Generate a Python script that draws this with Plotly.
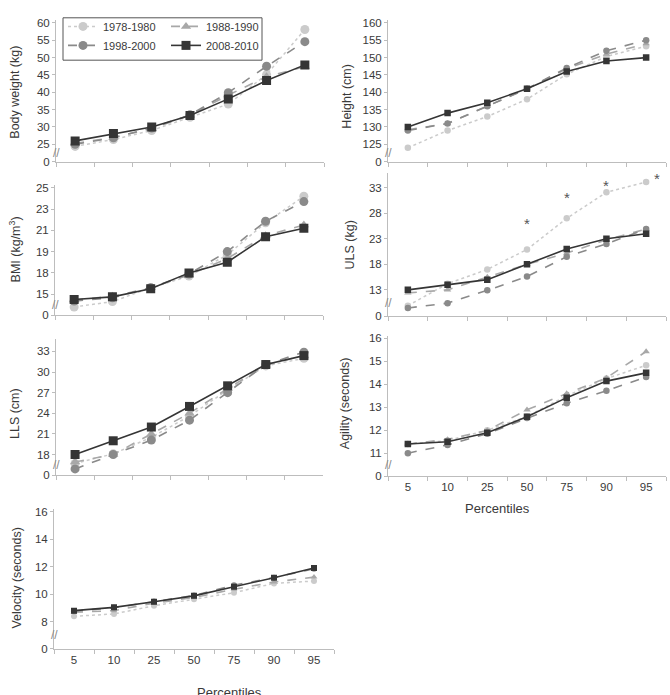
import plotly.graph_objects as go

# ---------------- data ----------------
percentiles = ["5", "10", "25", "50", "75", "90", "95"]
periods = ["1978-1980", "1988-1990", "1998-2000", "2008-2010"]

bw_1978 = [24.4, 26.4, 29.0, 32.8, 36.6, 45.1, 58.1]
bw_1988 = [25.3, 27.0, 29.5, 33.4, 39.2, 44.5, 47.4]
bw_1998 = [25.0, 26.9, 29.7, 33.5, 39.9, 47.5, 54.6]
bw_2008 = [26.0, 28.1, 30.0, 33.3, 38.1, 43.4, 47.9]

ht_1978 = [124.0, 129.0, 133.0, 138.0, 145.2, 150.3, 153.3]
ht_1988 = [129.2, 131.0, 136.0, 141.0, 146.8, 151.0, 154.0]
ht_1998 = [129.0, 131.0, 136.0, 141.0, 147.0, 152.0, 155.0]
ht_2008 = [130.0, 134.0, 137.0, 141.0, 146.0, 149.0, 150.0]

bmi_1978 = [13.8, 14.3, 15.6, 16.7, 18.7, 21.7, 24.2]
bmi_1988 = [14.45, 14.8, 15.6, 16.8, 18.35, 20.5, 21.5]
bmi_1998 = [14.35, 14.66, 15.6, 16.9, 19.0, 21.85, 23.7]
bmi_2008 = [14.5, 14.75, 15.5, 17.0, 18.0, 20.4, 21.2]

uls_1978 = [9.9, 14.2, 17.0, 20.9, 27.0, 32.1, 34.1]
uls_1988 = [12.4, 13.0, 15.5, 18.0, 20.2, 22.8, 24.9]
uls_1998 = [9.45, 10.4, 12.9, 15.6, 19.5, 22.0, 24.9]
uls_2008 = [13.0, 14.0, 15.0, 18.0, 21.0, 23.0, 24.0]
uls_star_cats = ["50", "75", "90", "95"]
uls_star_vals = [26.6, 31.6, 34.0, 35.3]

lls_1978 = [16.7, 18.1, 20.5, 23.6, 27.4, 30.9, 32.0]
lls_1988 = [16.9, 18.0, 21.0, 24.0, 27.6, 31.0, 32.4]
lls_1998 = [15.9, 18.0, 20.1, 23.0, 27.0, 31.1, 32.9]
lls_2008 = [18.0, 20.0, 22.0, 25.0, 28.0, 31.1, 32.4]

ag_1978 = [11.4, 11.55, 12.0, 12.6, 13.5, 14.25, 14.83]
ag_1988 = [11.4, 11.6, 11.99, 12.89, 13.6, 14.28, 15.43]
ag_1998 = [11.0, 11.36, 11.85, 12.53, 13.18, 13.72, 14.32]
ag_2008 = [11.4, 11.5, 11.89, 12.59, 13.42, 14.14, 14.5]

vel_1978 = [8.38, 8.55, 9.15, 9.63, 10.1, 10.78, 10.95]
vel_1988 = [8.67, 8.79, 9.34, 9.75, 10.35, 10.88, 11.24]
vel_1998 = [8.75, 9.0, 9.45, 9.9, 10.65, 11.2, 11.85]
vel_2008 = [8.79, 9.03, 9.44, 9.87, 10.54, 11.19, 11.91]

# tick values (lowest value is the broken-axis "0")
bw_tickvals = [20, 25, 30, 35, 40, 45, 50, 55, 60]
bw_ticktext = ["0", "25", "30", "35", "40", "45", "50", "55", "60"]
ht_tickvals = [120, 125, 130, 135, 140, 145, 150, 155, 160]
ht_ticktext = ["0", "125", "130", "135", "140", "145", "150", "155", "160"]
bmi_tickvals = [13, 15, 17, 19, 21, 23, 25]
bmi_ticktext = ["0", "15", "18", "19", "21", "23", "25"]
uls_tickvals = [7.85, 13, 18, 23, 28, 33]
uls_ticktext = ["0", "13", "18", "23", "28", "33"]
lls_tickvals = [15, 18, 21, 24, 27, 30, 33]
lls_ticktext = ["0", "18", "21", "24", "27", "30", "33"]
ag_tickvals = [10, 11, 12, 13, 14, 15, 16]
ag_ticktext = ["0", "11", "12", "13", "14", "15", "16"]
vel_tickvals = [6, 8, 10, 12, 14, 16]
vel_ticktext = ["0", "8", "10", "12", "14", "16"]

# ---------------- layout helpers ----------------
W, H = 670, 695
FONT = "Liberation Sans, Arial, sans-serif"
AXIS_COL = "#bdbdbd"
TXT_COL = "#3a3a3a"

colors = ["#cbcbcb", "#a8a8a8", "#8a8a8a", "#353535"]
dashes = ["dot", "dash", "dash", "solid"]
symbols = ["circle", "triangle-up", "circle", "square"]
widths = [1.5, 1.6, 1.6, 1.6]
legend_of = ["legend", "legend2", "legend", "legend2"]


def px_x(p):
    return p / W


def px_y(p):
    return 1 - p / H


panels = [
    dict(name="bw", title="Body weight (kg)", data=[bw_1978, bw_1988, bw_1998, bw_2008],
         tv=bw_tickvals, tt=bw_ticktext, rng=[20, 60.7], xd=(56, 324), yd=(160, 16.7),
         tx=15, ty=90, msize=9, xlabels=False, brk=22.6),
    dict(name="ht", title="Height (cm)", data=[ht_1978, ht_1988, ht_1998, ht_2008],
         tv=ht_tickvals, tt=ht_ticktext, rng=[120, 160.7], xd=(388, 666), yd=(160, 16.7),
         tx=347, ty=94, msize=6.5, xlabels=False, brk=122.6),
    dict(name="bmi", title="BMI (kg/m<sup>3</sup>)", data=[bmi_1978, bmi_1988, bmi_1998, bmi_2008],
         tv=bmi_tickvals, tt=bmi_ticktext, rng=[13, 25.3], xd=(55, 323), yd=(316, 183.2),
         tx=15, ty=249, msize=9, xlabels=False, brk=14.0),
    dict(name="uls", title="ULS (kg)", data=[uls_1978, uls_1988, uls_1998, uls_2008],
         tv=uls_tickvals, tt=uls_ticktext, rng=[7.85, 35.8], xd=(388, 666), yd=(316.7, 171.9),
         tx=350, ty=244, msize=6.5, xlabels=False, brk=10.4),
    dict(name="lls", title="LLS (cm)", data=[lls_1978, lls_1988, lls_1998, lls_2008],
         tv=lls_tickvals, tt=lls_ticktext, rng=[15, 34.8], xd=(56, 323), yd=(478, 340),
         tx=15, ty=416, msize=9, xlabels=False, brk=16.5),
    dict(name="ag", title="Agility (seconds)", data=[ag_1978, ag_1988, ag_1998, ag_2008],
         tv=ag_tickvals, tt=ag_ticktext, rng=[10, 16.1], xd=(388, 666), yd=(479, 337),
         tx=345, ty=405, msize=6.5, xlabels=True, brk=10.5),
    dict(name="vel", title="Velocity (seconds)", data=[vel_1978, vel_1988, vel_1998, vel_2008],
         tv=vel_tickvals, tt=vel_ticktext, rng=[6, 16.2], xd=(54, 334), yd=(654.3, 512.5),
         tx=17, ty=583, msize=6, xlabels=True, brk=7.0),
]

fig = go.Figure()
layout = {}
annotations = []

for i, p in enumerate(panels):
    n = "" if i == 0 else str(i + 1)
    xa, ya = "x" + n, "y" + n
    for k in range(4):
        fig.add_trace(go.Scatter(
            x=percentiles, y=p["data"][k], xaxis=xa, yaxis=ya,
            name=periods[k], legendgroup=periods[k], showlegend=(i == 0),
            legend=legend_of[k],
            mode="lines+markers",
            line=dict(color=colors[k], dash=dashes[k], width=widths[k]),
            marker=dict(color=colors[k], symbol=symbols[k], size=p["msize"]),
        ))
    layout["xaxis" + n] = dict(
        domain=[px_x(p["xd"][0]), px_x(p["xd"][1])], anchor=ya, type="category",
        categoryorder="array", categoryarray=percentiles, range=[-0.5, 6.5],
        showline=True, linecolor=AXIS_COL, linewidth=1,
        ticks="outside", tickson="boundaries", ticklen=4, tickcolor=AXIS_COL,
        showticklabels=p["xlabels"], showgrid=False, zeroline=False,
        tickfont=dict(size=11.5, color=TXT_COL, family=FONT),
    )
    layout["yaxis" + n] = dict(
        domain=[px_y(p["yd"][0]), px_y(p["yd"][1])], anchor=xa,
        range=p["rng"], tickvals=p["tv"], ticktext=p["tt"],
        showline=True, linecolor=AXIS_COL, linewidth=1,
        ticks="outside", ticklen=3, tickcolor=AXIS_COL,
        showgrid=False, zeroline=False,
        tickfont=dict(size=11.5, color=TXT_COL, family=FONT),
    )
    annotations.append(dict(
        text=p["title"], x=px_x(p["tx"]), y=px_y(p["ty"]), xref="paper", yref="paper",
        textangle=-90, showarrow=False, xanchor="center", yanchor="middle",
        font=dict(size=12.5, color=TXT_COL, family=FONT),
    ))
    annotations.append(dict(
        text="//", x=0, y=p["brk"], xref=xa + " domain", yref=ya,
        showarrow=False, xanchor="center", yanchor="middle",
        font=dict(size=12, color="#8a8a8a", family=FONT),
    ))

# significance marks on ULS panel (category index positions)
for c, v in zip(uls_star_cats, uls_star_vals):
    annotations.append(dict(
        text="*", x=percentiles.index(c), y=v, xref="x4", yref="y4", showarrow=False,
        xshift=11 if c == "95" else 0, yshift=-3,
        font=dict(size=15, color="#555555", family=FONT),
    ))

# x-axis titles
annotations.append(dict(text="Percentiles", x=px_x(532), y=px_y(522), xref="paper", yref="paper",
                        showarrow=False, font=dict(size=13, color=TXT_COL, family=FONT)))
annotations.append(dict(text="Percentiles", x=px_x(195), y=px_y(689), xref="paper", yref="paper",
                        yanchor="top", showarrow=False, font=dict(size=13, color=TXT_COL, family=FONT)))

legend_style = dict(
    orientation="v", xanchor="left", yanchor="top", y=px_y(8),
    bgcolor="rgba(0,0,0,0)", borderwidth=0, tracegroupgap=0,
    font=dict(size=11, color=TXT_COL, family=FONT),
)

fig.update_layout(
    width=W, height=H, margin=dict(l=0, r=0, t=0, b=0),
    paper_bgcolor="white", plot_bgcolor="white",
    font=dict(family=FONT, color=TXT_COL),
    annotations=annotations,
    legend=dict(x=px_x(63), **legend_style),
    legend2=dict(x=px_x(166), **legend_style),
    shapes=[dict(type="rect", xref="paper", yref="paper",
                 x0=px_x(63), x1=px_x(262), y0=px_y(57), y1=px_y(14),
                 line=dict(color="#555555", width=1), fillcolor="rgba(0,0,0,0)")],
    **layout,
)

fig.write_html("out.html")
